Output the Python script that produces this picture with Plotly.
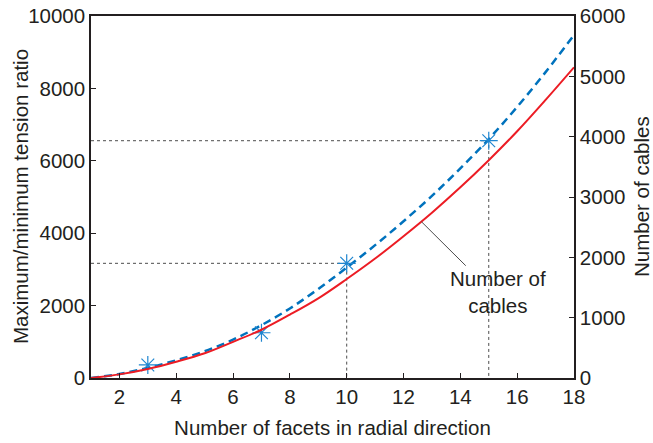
import plotly.graph_objects as go

# ---- data ----
facets = list(range(1, 19))
tension_ratio = [0, 110, 280, 490, 740, 1060, 1460, 1920, 2460, 3050,
                 3670, 4330, 5030, 5790, 6600, 7490, 8450, 9475]
num_cables = [0, 60, 150, 270, 410, 600, 800, 1050, 1320, 1640,
              1980, 2350, 2740, 3160, 3610, 4090, 4610, 5150]

star_x = [3, 7, 10, 15]
star_y = [360, 1250, 3168, 6555]
guide_idx = [2, 3]  # stars that get dashed guide lines

x_ticks = list(range(2, 19, 2))
left_ticks = list(range(0, 10001, 2000))
right_ticks = list(range(0, 6001, 1000))

X_MIN, X_MAX = 1, 18
INK = "#231f20"
FONT = "Liberation Sans, Arial, Helvetica, sans-serif"
FS = 20.5

fig = go.Figure()

# dashed guide lines
for i in guide_idx:
    gx, gy = star_x[i], star_y[i]
    fig.add_trace(go.Scatter(
        x=[X_MIN, gx, gx], y=[gy, gy, 0], mode="lines",
        line=dict(color="#4d4d4d", width=1, dash="3px,3px"),
        hoverinfo="skip", showlegend=False))

# number of cables (right axis)
fig.add_trace(go.Scatter(
    x=facets, y=num_cables, yaxis="y2", mode="lines", line_shape="spline",
    line=dict(color="#ec1c24", width=2), showlegend=False))

# tension ratio (left axis)
fig.add_trace(go.Scatter(
    x=facets, y=tension_ratio, mode="lines", line_shape="spline",
    line=dict(color="#0072bd", width=2.5, dash="8px,5px"), showlegend=False))

fig.add_trace(go.Scatter(
    x=star_x, y=star_y, mode="markers",
    marker=dict(symbol="asterisk-open", size=15, color="#1f86d0",
                line=dict(color="#1f86d0", width=1.2)),
    showlegend=False))

# callout line and text
fig.add_shape(type="line", x0=12.63, y0=4318, x1=14.19, y1=3102,
              xref="x", yref="y", line=dict(color="#4d4d4d", width=1))
fig.add_annotation(x=15.33, y=2380, xref="x", yref="y",
                   text="Number of<br>cables", showarrow=False,
                   font=dict(family=FONT, size=FS, color=INK), align="center")

# y-axis titles as rotated annotations for precise placement
fig.add_annotation(x=0, y=0.5, xref="paper", yref="paper", xshift=-71,
                   xanchor="center", yanchor="middle",
                   text="Maximum/minimum tension ratio", textangle=-90,
                   showarrow=False, font=dict(family=FONT, size=FS, color=INK))
fig.add_annotation(x=1, y=0.5, xref="paper", yref="paper", xshift=67,
                   xanchor="center", yanchor="middle",
                   text="Number of cables", textangle=-90,
                   showarrow=False, font=dict(family=FONT, size=FS, color=INK))

axis_common = dict(showline=True, linecolor=INK, linewidth=1.5,
                   ticks="inside", ticklen=5, tickwidth=1, tickcolor=INK,
                   showgrid=False, zeroline=False, automargin=False,
                   tickfont=dict(family=FONT, size=FS, color=INK))

fig.update_layout(
    width=653, height=443,
    margin=dict(l=91, r=79, t=16, b=65),
    paper_bgcolor="white", plot_bgcolor="white",
    font=dict(family=FONT, size=FS, color=INK),
    xaxis=dict(range=[X_MIN, X_MAX], tickvals=x_ticks, mirror=True,
               title=dict(text="Number of facets in radial direction",
                          font=dict(size=FS), standoff=13),
               **axis_common),
    yaxis=dict(range=[0, 10000], tickvals=left_ticks,
               ticktext=[str(v) for v in left_ticks],
               **axis_common),
    yaxis2=dict(range=[0, 6000], tickvals=right_ticks, overlaying="y",
                side="right",
                **axis_common),
)

fig.write_html("out.html")
